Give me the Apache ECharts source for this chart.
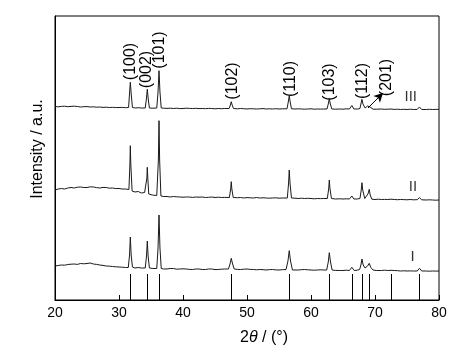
<!DOCTYPE html>
<html><head><meta charset="utf-8">
<script src="https://cdn.jsdelivr.net/npm/echarts@6/dist/echarts.min.js"></script>
<style>html,body{margin:0;padding:0;background:#fff}#c{width:462px;height:364px}</style>
</head><body><div id="c"></div>
<script>
// x: 2theta (deg), y: intensity (a.u., offset stacked)
const curveI = [[20,34],[20.5,34.5],[21,35],[21.5,34.8],[22,35.5],[22.5,35.8],[23,36],[23.5,35.6],[24,36.5],[24.5,36.2],[25,36.5],[25.5,37],[26,36],[26.5,35.6],[27,35],[27.5,34.6],[28,34],[28.5,33.8],[29,33.5],[29.5,33.2],[30,33],[30.5,32.8],[31,32.5],[31.45,32.5],[31.65,45],[31.77,63],[31.9,45],[32.1,33],[32.5,32],[33,32.5],[33.5,32],[34.1,32],[34.3,44],[34.42,59],[34.55,44],[34.75,32],[35.3,31.5],[35.9,31.5],[36.1,52],[36.25,85],[36.4,52],[36.6,31.5],[37,31],[37.5,31],[38,31.5],[38.5,31.5],[39,30.8],[39.5,31],[40,31.2],[40.5,31],[41,30.6],[41.5,30.5],[42,31],[42.5,31],[43,30.5],[43.5,30.5],[44,31],[44.5,31],[45,30.4],[45.5,30.5],[46,30.8],[46.5,31],[47.1,31],[47.35,36],[47.54,41.7],[47.75,36],[48,31],[48.5,30.6],[49,30.5],[49.5,30.8],[50,31],[50.5,30.6],[51,30.5],[51.5,30.2],[52,30.5],[52.5,30.3],[53,30],[53.5,30.4],[54,30.5],[54.5,30.1],[55,30],[55.5,30.3],[56.1,30.5],[56.4,39],[56.6,49.3],[56.8,39],[57.1,30],[57.5,30],[58,30],[58.5,30.3],[59,30.5],[59.5,30.2],[60,30],[60.5,29.8],[61,30],[61.5,30.2],[62,30],[62.45,30],[62.7,38],[62.86,47.3],[63.05,38],[63.3,30],[63.8,29.6],[64.5,29.5],[65,29.5],[65.5,29.8],[66,29.5],[66.38,32.7],[66.75,29.5],[67.2,29.8],[67.6,30.5],[67.8,35],[67.96,41],[68.15,35],[68.45,32],[68.85,34],[69.1,36.7],[69.35,32.5],[69.7,30],[70.2,29.5],[71,29.5],[71.5,29.8],[72,29.5],[72.5,29.7],[73,29.5],[73.5,29.3],[74,29],[74.5,29.2],[75,29],[75.5,29.1],[76,29],[76.6,29],[76.95,31.7],[77.3,29],[78,29],[78.5,28.8],[79,29],[79.5,28.9],[80,29]];

const curveII = [[20,110],[20.5,111],[21,111.5],[21.5,111],[22,112],[22.5,112.5],[23,112],[23.5,112.8],[24,113],[24.5,112.5],[25,112.5],[25.5,113.2],[26,113],[26.5,112.4],[27,112],[27.5,112.6],[28,112.5],[28.5,111.8],[29,112],[29.5,111.4],[30,111.5],[30.5,111],[31,111],[31.55,110.5],[31.7,135],[31.77,154.3],[31.85,135],[32.05,109],[32.5,108],[33,108.5],[33.5,107],[34,107.5],[34.25,107],[34.36,122],[34.42,132.7],[34.5,122],[34.65,106],[35.2,105],[35.9,104.5],[36.15,140],[36.25,179.3],[36.35,140],[36.55,104],[37,103.5],[37.5,103.5],[38,103],[38.5,103.5],[39,103.2],[39.5,103],[40,102.8],[40.5,103],[41,103],[41.5,102.6],[42,103],[42.5,102.8],[43,103],[43.5,102.5],[44,102.7],[44.5,103],[45,102.5],[45.5,102.8],[46,102.5],[46.5,102.6],[47.25,102.5],[47.45,111],[47.54,118.3],[47.63,111],[47.85,102.5],[48.5,102.3],[49,102.5],[49.5,102],[50,102.4],[50.5,102.2],[51,102],[51.5,102.5],[52,102],[52.5,102.2],[53,102],[53.5,101.8],[54,102],[54.5,102.2],[55,101.8],[55.5,102],[56.3,102],[56.5,117],[56.6,130],[56.72,117],[56.95,102],[57.5,101.8],[58,101.5],[58.5,101.8],[59,101.5],[59.5,101.7],[60,101.5],[60.5,101.2],[61,101.5],[61.5,101.4],[62,101.5],[62.55,101.5],[62.76,111],[62.86,120],[62.97,111],[63.2,101.5],[63.8,101],[64.5,101.2],[65,101],[65.5,101.2],[66,101],[66.38,104],[66.7,101],[67.2,101],[67.65,101.5],[67.85,110],[67.96,117.3],[68.08,110],[68.4,101.5],[68.6,101],[68.9,106],[69.1,110.7],[69.25,105],[69.5,100.8],[70,100.5],[70.5,100.8],[71,100.5],[71.5,100.6],[72,100.5],[72.5,100.8],[73,100.5],[73.5,100.3],[74,100.5],[74.5,100.4],[75,100.2],[75.5,100.5],[76,100.2],[76.6,100.3],[76.95,102.3],[77.3,100.2],[78,100],[78.5,100.2],[79,100],[79.5,99.8],[80,100]];

const curveIII = [[20,193.5],[20.5,193.2],[21,193.6],[21.5,193.8],[22,193.3],[22.5,193.6],[23,193.8],[23.5,193.5],[24,193],[24.5,193.3],[25,193.4],[25.5,193],[26,193.2],[26.5,192.8],[27,193],[27.5,192.6],[28,192.8],[28.5,192.5],[29,192.7],[29.5,192.4],[30,192.5],[30.5,192.6],[31,192.3],[31.5,192.5],[31.63,205],[31.77,217.7],[31.92,205],[32.1,192.5],[32.6,192],[33,192.3],[33.5,192],[34.1,192],[34.28,201],[34.42,210.7],[34.57,201],[34.75,192],[35.3,191.8],[35.9,192],[36.1,208],[36.25,229.3],[36.4,208],[36.6,192],[37,191.8],[37.5,191.6],[38,191.8],[38.5,191.5],[39,191.8],[39.5,191.4],[40,191.5],[40.5,191.8],[41,191.6],[41.5,191.5],[42,191.7],[42.5,191.4],[43,191.5],[43.5,191.3],[44,191.6],[44.5,191.5],[45,191.2],[45.5,191.5],[46,191.3],[46.5,191.5],[47.2,191.5],[47.4,195],[47.54,198.3],[47.68,195],[47.9,191.5],[48.5,191.2],[49,191.5],[49.5,191.3],[50,191],[50.5,191.3],[51,191.2],[51.5,191],[52,191.2],[52.5,191.4],[53,191],[53.5,191.2],[54,191],[54.5,191.3],[55,191],[55.5,191.2],[56.25,191.2],[56.45,198],[56.6,204],[56.75,198],[56.95,191.2],[57.5,191],[58,191.2],[58.5,191],[59,190.8],[59.5,191],[60,191.2],[60.5,190.8],[61,191],[61.5,190.9],[62,191],[62.5,191],[62.7,196],[62.86,201],[63.02,196],[63.25,191],[63.8,190.8],[64.5,191],[65,190.8],[65.5,191.2],[66,191],[66.38,194.5],[66.7,191],[67.3,191],[67.65,191.5],[67.8,196],[67.96,200.7],[68.12,196],[68.45,192],[68.85,194],[69.1,196],[69.35,192.5],[69.7,190.8],[70.2,190.8],[71,191],[71.5,190.7],[72,190.8],[72.5,191],[73,190.6],[73.5,190.8],[74,190.5],[74.5,190.7],[75,190.5],[75.5,190.8],[76,190.5],[76.6,190.6],[76.95,193],[77.3,190.5],[78,190.5],[78.5,190.7],[79,190.5],[79.5,190.6],[80,190.7]];

// standard reference pattern (stick positions)
const stickPos = [31.77, 34.42, 36.25, 47.54, 56.60, 62.86, 66.38, 67.96, 69.10, 72.56, 76.95];
const stickHeight = 26;

// peak index labels (placed above curve III), label centre positions in data units
const peakLabels = ['(100)', '(002)', '(101)', '(102)', '(110)', '(103)', '(112)', '(201)'];
const peakLabelX = [31.87, 34.33, 36.4, 47.77, 56.83, 62.97, 68.08, 71.83];
const peakLabelY = [238.5, 230.5, 250, 219, 221, 218, 219, 222.5];

// curve names
const curveNames = ['I', 'II', 'III'];
const curveNameX = [75.89, 75.94, 75.58];
const curveNameY = [43.3, 113.3, 203.3];

// arrow pointing at (201) peak
const arrowFrom = [68.9, 192];
const arrowTo = [71.25, 207];

const xTicks = [20, 30, 40, 50, 60, 70, 80];
const yRange = [0, 284];

const chart = echarts.init(document.getElementById('c'));
const lineCol = '#1a1a1a';
const FONT = 'Liberation Sans';

function curveSeries(name, data) {
  return {
    name, type: 'line', data, showSymbol: false, symbol: 'none',
    lineStyle: {color: lineCol, width: 1}, z: 3, silent: true
  };
}

const mainYAxis = {
  type: 'value', min: yRange[0], max: yRange[1], gridIndex: 0,
  name: 'Intensity / a.u.', nameLocation: 'middle', nameGap: 9,
  nameTextStyle: {fontFamily: FONT, fontSize: 16, color: '#000', padding: [0, 0, 0, 18]},
  axisLine: {show: true, onZero: false, lineStyle: {color: '#000'}},
  axisTick: {show: false}, axisLabel: {show: false}, splitLine: {show: false}
};

chart.setOption({
  animation: false,
  backgroundColor: '#fff',
  textStyle: {fontFamily: FONT},
  grid: {left: 55, right: 23, top: 16, bottom: 64, show: true, borderColor: '#000', borderWidth: 1},
  xAxis: {
    type: 'value', min: xTicks[0], max: xTicks[xTicks.length - 1], interval: 10,
    name: '{n|2}{i|θ}{n| / (°)}', nameLocation: 'middle', nameGap: 30,
    nameTextStyle: {padding: [0, 0, 0, 34], rich: {
      n: {fontFamily: FONT, fontSize: 16, color: '#000'},
      i: {fontFamily: FONT, fontSize: 16, fontStyle: 'italic', color: '#000'}
    }},
    axisLine: {onZero: false, lineStyle: {color: '#000', width: 1}},
    axisTick: {inside: true, length: 5, lineStyle: {color: '#000'}},
    axisLabel: {fontFamily: FONT, fontSize: 14, color: '#000', margin: 6},
    splitLine: {show: false}
  },
  yAxis: [mainYAxis],
  series: [
    curveSeries('I', curveI),
    curveSeries('II', curveII),
    Object.assign(curveSeries('III', curveIII), {
      markLine: {
        silent: true, symbol: ['none', 'arrow'], symbolSize: [7, 9],
        lineStyle: {color: '#000', width: 1, type: 'solid'}, label: {show: false},
        data: [[{coord: arrowFrom}, {coord: arrowTo}]]
      }
    }),
    {
      name: 'ref', type: 'line', data: [], symbol: 'none',
      markLine: {
        silent: true, symbol: ['none', 'none'], label: {show: false},
        lineStyle: {color: '#000', width: 1, type: 'solid'},
        data: stickPos.map(p => [{coord: [p, 0]}, {coord: [p, stickHeight]}])
      }
    },
    {
      name: 'names', type: 'scatter', symbolSize: 0.1, itemStyle: {color: 'rgba(0,0,0,0)'}, silent: true,
      data: curveNames.map((t, i) => ({value: [curveNameX[i], curveNameY[i]], name: t})),
      label: {show: true, position: 'inside', formatter: '{b}',
        fontFamily: FONT, fontSize: 15, color: '#000'}
    }
  ]
});

// Vertical (rotated) peak labels: drawn as names of hidden helper y-axes,
// placed through the grid's own scale (convertToPixel).
const labelFont = 16;
const gridLeftPx = chart.convertToPixel({gridIndex: 0}, [xTicks[0], yRange[0]])[0];
const gridMidPx = chart.convertToPixel({gridIndex: 0}, [xTicks[0], (yRange[0] + yRange[1]) / 2])[1];
const labelAxes = peakLabels.map((t, i) => {
  const p = chart.convertToPixel({gridIndex: 0}, [peakLabelX[i], peakLabelY[i]]);
  const shift = Math.max(0, 2 * (gridMidPx - p[1]));
  return {
    type: 'value', min: 0, max: 1, gridIndex: 0, position: 'left',
    offset: gridLeftPx - (p[0] + labelFont / 2),
    name: t, nameLocation: 'middle', nameGap: 0,
    nameTextStyle: {fontFamily: FONT, fontSize: labelFont, color: '#000', padding: [0, 0, 0, shift]},
    axisLine: {show: false, onZero: false}, axisTick: {show: false},
    axisLabel: {show: false}, splitLine: {show: false}, silent: true
  };
});
chart.setOption({yAxis: [mainYAxis].concat(labelAxes)});
</script></body></html>
